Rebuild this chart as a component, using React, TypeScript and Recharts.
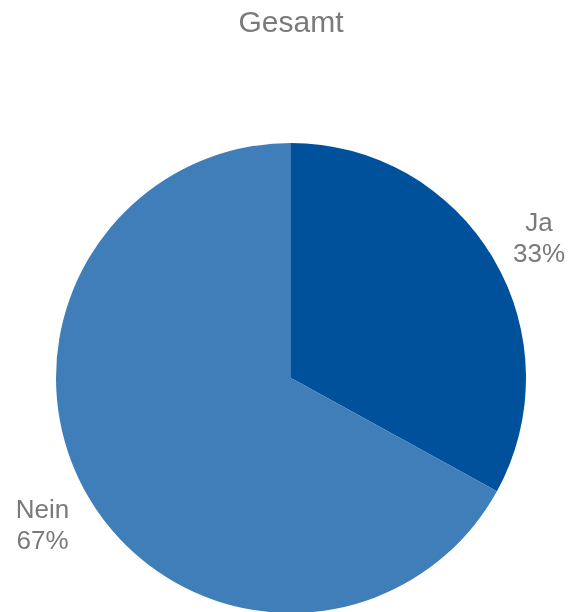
import React from 'react';
import { PieChart, Pie, Cell } from 'recharts';

const categories = ['Ja', 'Nein'];
const shares = [33, 67];
const sliceColors = ['#00519C', '#407EB9'];
const chartTitle = 'Gesamt';

const pieData = categories.map((name, i) => ({ name, value: shares[i] }));

const FONT = '"Liberation Sans", Arial, sans-serif';
const TEXT_GRAY = '#7a7a7a';
const RADIAN = Math.PI / 180;

// Excel "best fit" label placement: angle (deg) and distance past the rim, per slice
const labelPlacement: Record<string, { angle: number; gap: number }> = {
  Ja: { angle: 28, gap: 46 },
  Nein: { angle: 212, gap: 58 },
};

const renderLabel = (props: any) => {
  const { cx, cy, outerRadius, midAngle, name, percent } = props;
  const place = labelPlacement[name] ?? { angle: midAngle, gap: 50 };
  const r = outerRadius + place.gap;
  const x = cx + r * Math.cos(-place.angle * RADIAN);
  const y = cy + r * Math.sin(-place.angle * RADIAN);
  return (
    <text x={x} y={y} textAnchor="middle" fill={TEXT_GRAY} fontFamily={FONT} fontSize={26}>
      <tspan x={x} dy={-15}>{name}</tspan>
      <tspan x={x} dy={30.5}>{`${Math.round(percent * 100)}%`}</tspan>
    </text>
  );
};

export default function App() {
  // cancel the body margin so the chart covers the whole 568x612 page
  return (
    <div style={{ position: 'fixed', left: 0, top: 0, width: 568, height: 612 }}>
      <PieChart
        width={568}
        height={612}
        margin={{ top: 0, right: 0, bottom: 0, left: 0 }}
        style={{ overflow: 'visible' }}
      >
        <text x={291} y={32} textAnchor="middle" fill={TEXT_GRAY} fontFamily={FONT} fontSize={30}>
          {chartTitle}
        </text>
        <Pie
          data={pieData}
          dataKey="value"
          nameKey="name"
          cx={291}
          cy={378}
          outerRadius={235}
          startAngle={90}
          endAngle={-270}
          stroke="none"
          label={renderLabel}
          labelLine={false}
          isAnimationActive={false}
        >
          {pieData.map((d, i) => (
            <Cell key={d.name} fill={sliceColors[i]} />
          ))}
        </Pie>
      </PieChart>
    </div>
  );
}
